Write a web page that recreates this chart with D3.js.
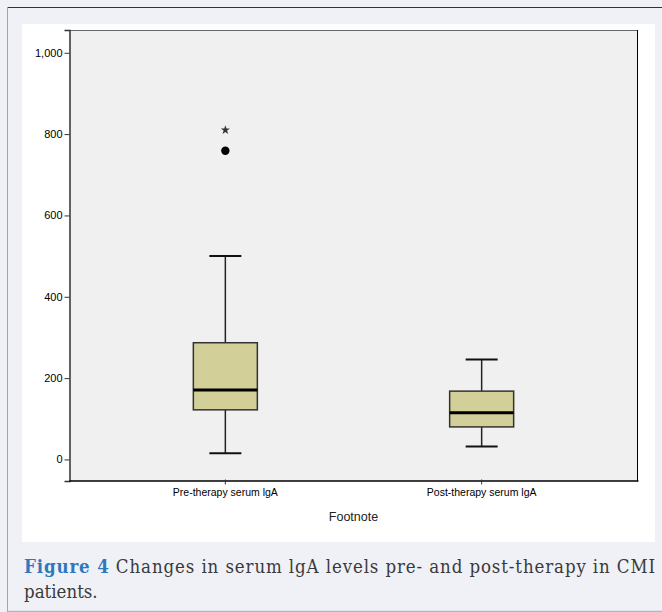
<!DOCTYPE html>
<html><head><meta charset="utf-8">
<script src="https://cdn.jsdelivr.net/npm/d3@7"></script>
<style>
html,body{margin:0;padding:0;background:#eff1f7;}
svg{display:block;}
</style></head>
<body>
<svg id="chart" width="662" height="612"></svg>
<script>
const categories = ["Pre-therapy serum lgA", "Post-therapy serum lgA"];
const whiskerLow = [15, 32];
const q1 = [122, 80];
const median = [171, 115];
const q3 = [287, 168];
const whiskerHigh = [500, 246];
const outliers = [{cat: 0, value: 759}];
const extremes = [{cat: 0, value: 810}];
const yTicks = [0, 200, 400, 600, 800, 1000];
const axisTitle = "Footnote";

const svg = d3.select("#chart");

// outer frame
svg.append("rect").attr("x", 0).attr("y", 0).attr("width", 662).attr("height", 612).attr("fill", "#eff1f7");
svg.append("line").attr("x1", 7.5).attr("x2", 662).attr("y1", 7.5).attr("y2", 7.5).attr("stroke", "#333").attr("stroke-width", 1);
svg.append("line").attr("x1", 7.5).attr("x2", 7.5).attr("y1", 7.5).attr("y2", 612).attr("stroke", "#a0a4ad").attr("stroke-width", 1);
svg.append("line").attr("x1", 7.5).attr("x2", 662).attr("y1", 611.5).attr("y2", 611.5).attr("stroke", "#9fbad8").attr("stroke-width", 1.5);
// white panel
svg.append("rect").attr("x", 22).attr("y", 24).attr("width", 633).attr("height", 518).attr("fill", "#ffffff");

const pLeft = 69, pRight = 638, pTop = 30, pBottom = 481;
const y = d3.scaleLinear().domain([-53, 1056]).range([pBottom, pTop]);
const x = d3.scaleBand().domain(categories).range([pLeft, pRight]).paddingOuter(0.11).paddingInner(0);

svg.append("rect").attr("x", pLeft).attr("y", pTop).attr("width", pRight - pLeft).attr("height", pBottom - pTop)
  .attr("fill", "#f0f0f0");
// frame
svg.append("line").attr("x1", pLeft).attr("x2", pRight).attr("y1", pTop + 0.5).attr("y2", pTop + 0.5).attr("stroke", "#666");
svg.append("line").attr("x1", pRight - 0.5).attr("x2", pRight - 0.5).attr("y1", pTop).attr("y2", pBottom).attr("stroke", "#000");

// y axis
const yAxis = d3.axisLeft(y).tickValues(yTicks).tickSize(5).tickPadding(2).tickFormat(d3.format(","));
const ya = svg.append("g").attr("transform", `translate(${pLeft + 0.5},0)`).call(yAxis);
ya.select(".domain").attr("stroke", "#333").attr("stroke-width", 1.5);
ya.selectAll(".tick line").attr("stroke", "#333");
ya.selectAll("text").attr("font-family", "Liberation Sans, Arial, sans-serif").attr("font-size", 11).attr("fill", "#000");

// x axis
const xAxis = d3.axisBottom(x).tickSize(5).tickPadding(3).tickSizeOuter(0);
const xa = svg.append("g").attr("transform", `translate(0,${pBottom - 0.5})`).call(xAxis);
xa.select(".domain").attr("stroke", "#000").attr("stroke-width", 1.5);
xa.selectAll(".tick line").attr("stroke", "#333").attr("y1", -1).attr("y2", 4);
xa.selectAll("text").attr("font-family", "Liberation Sans, Arial, sans-serif").attr("font-size", 10.5).attr("fill", "#000");

svg.append("text").attr("x", (pLeft + pRight) / 2).attr("y", 521).attr("text-anchor", "middle")
  .attr("font-family", "Liberation Sans, Arial, sans-serif").attr("font-size", 12.5).attr("fill", "#222").text(axisTitle);

// boxes
const bw = 64, cw = 32;
const g = svg.append("g");
categories.forEach((c, i) => {
  const cx = x(c) + x.bandwidth() / 2;
  g.append("line").attr("x1", cx).attr("x2", cx).attr("y1", y(whiskerHigh[i])).attr("y2", y(q3[i])).attr("stroke", "#222").attr("stroke-width", 1.5);
  g.append("line").attr("x1", cx).attr("x2", cx).attr("y1", y(q1[i])).attr("y2", y(whiskerLow[i])).attr("stroke", "#222").attr("stroke-width", 1.5);
  g.append("line").attr("x1", cx - cw / 2).attr("x2", cx + cw / 2).attr("y1", y(whiskerHigh[i])).attr("y2", y(whiskerHigh[i])).attr("stroke", "#111").attr("stroke-width", 2);
  g.append("line").attr("x1", cx - cw / 2).attr("x2", cx + cw / 2).attr("y1", y(whiskerLow[i])).attr("y2", y(whiskerLow[i])).attr("stroke", "#111").attr("stroke-width", 2);
  g.append("rect").attr("x", cx - bw / 2).attr("y", y(q3[i])).attr("width", bw).attr("height", y(q1[i]) - y(q3[i]))
    .attr("fill", "#d3cf98").attr("stroke", "#333").attr("stroke-width", 1.5);
  g.append("line").attr("x1", cx - bw / 2).attr("x2", cx + bw / 2).attr("y1", y(median[i])).attr("y2", y(median[i])).attr("stroke", "#000").attr("stroke-width", 3);
});
outliers.forEach(o => {
  const cx = x(categories[o.cat]) + x.bandwidth() / 2;
  g.append("circle").attr("cx", cx).attr("cy", y(o.value)).attr("r", 4.2).attr("fill", "#000");
});
extremes.forEach(o => {
  const cx = x(categories[o.cat]) + x.bandwidth() / 2;
  g.append("path").attr("d", d3.symbol().type(d3.symbolStar).size(26)).attr("transform", `translate(${cx},${y(o.value)})`)
    .attr("fill", "#333");
});

// caption
const cap = svg.append("text").attr("x", 24).attr("y", 573)
  .attr("font-family", "DejaVu Serif, Liberation Serif, serif").attr("font-stretch", "condensed").attr("font-size", 18.5).attr("fill", "#3a3a3a")
  .attr("textLength", 631).attr("lengthAdjust", "spacing");
cap.append("tspan").attr("font-weight", "bold").attr("fill", "#2f78be").text("Figure 4");
cap.append("tspan").text(" Changes in serum lgA levels pre- and post-therapy in CMI");
svg.append("text").attr("x", 24).attr("y", 598)
  .attr("font-family", "DejaVu Serif, Liberation Serif, serif").attr("font-stretch", "condensed").attr("font-size", 18.5).attr("fill", "#3a3a3a").text("patients.");
</script>
</body></html>
